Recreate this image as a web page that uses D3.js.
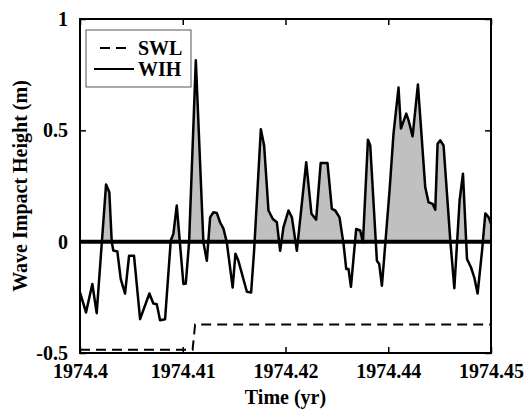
<!DOCTYPE html>
<html>
<head>
<meta charset="utf-8">
<script src="https://cdn.jsdelivr.net/npm/d3@7"></script>
<style>
  body { margin: 0; background: #fff; }
  text { font-family: "Liberation Serif", "Times New Roman", serif; font-weight: bold; }
</style>
</head>
<body>
<svg id="chart" width="531" height="412"></svg>
<script>
// time (yr) and wave impact height (m)
const wihTime = [1974.4, 1974.40073, 1974.4015, 1974.40203, 1974.40317, 1974.40357, 1974.40386, 1974.40405,
  1974.40454, 1974.40496, 1974.40548, 1974.40597, 1974.40657, 1974.40731, 1974.40844, 1974.40892,
  1974.40934, 1974.40974, 1974.41035, 1974.41104, 1974.41136, 1974.41177, 1974.41258, 1974.41287,
  1974.41327, 1974.41409, 1974.41501, 1974.41543, 1974.41583, 1974.41623, 1974.41664, 1974.41705,
  1974.41745, 1974.41786, 1974.41857, 1974.41891, 1974.41927, 1974.4203, 1974.42082, 1974.42118,
  1974.422, 1974.4224, 1974.42293, 1974.42346, 1974.42395, 1974.42435, 1974.42475, 1974.42536,
  1974.42578, 1974.42638, 1974.42752, 1974.42816, 1974.42873, 1974.42928, 1974.43011, 1974.43064,
  1974.43105, 1974.43157, 1974.43206, 1974.43239, 1974.43267, 1974.43296, 1974.4336, 1974.43409,
  1974.43442, 1974.43503, 1974.43531, 1974.43612, 1974.4364, 1974.43673, 1974.43766, 1974.43814,
  1974.43875, 1974.43904, 1974.43969, 1974.43997, 1974.44046, 1974.44111, 1974.442, 1974.4424,
  1974.44289, 1974.44322, 1974.4435, 1974.44383, 1974.44423, 1974.44505, 1974.44554, 1974.44618,
  1974.44659, 1974.44708, 1974.44757, 1974.44797, 1974.44837, 1974.44891, 1974.44931, 1974.44971, 1974.45];
const wih = [-0.228, -0.318, -0.19, -0.321, 0.257, 0.222, 0.001, -0.04,
  -0.044, -0.168, -0.233, -0.063, -0.063, -0.348, -0.233, -0.278,
  -0.281, -0.353, -0.348, 0.005, 0.035, 0.162, -0.19, -0.188,
  -0.003, 0.815, -0.003, -0.086, 0.109, 0.132, 0.129, 0.086,
  0.059, -0.003, -0.206, -0.054, -0.086, -0.225, -0.228, -0.041,
  0.505, 0.432, 0.14, 0.102, 0.087, -0.041, 0.064, 0.14,
  0.109, -0.041, 0.357, 0.125, 0.099, 0.353, 0.353, 0.147,
  0.14, 0.109, -0.01, -0.123, -0.123, -0.203, 0.057, 0.05,
  -0.003, 0.458, 0.432, -0.086, -0.1, -0.198, 0.23, 0.485,
  0.692, 0.508, 0.575, 0.545, 0.473, 0.706, 0.245, 0.177,
  0.17, 0.143, 0.44, 0.455, 0.432, 0.005, -0.209, 0.185,
  0.305, -0.078, -0.116, -0.161, -0.233, -0.041, 0.127, 0.109, 0.08];

// still water level (m)
const swlTime = [1974.4, 1974.4137, 1974.4140, 1974.45];
const swl = [-0.485, -0.485, -0.372, -0.372];

const xTicks = [1974.4, 1974.4125, 1974.425, 1974.4375, 1974.45];
const xTickLabels = ["1974.4", "1974.41", "1974.42", "1974.44", "1974.45"];
const yTicks = [-0.5, 0, 0.5, 1];
const yTickLabels = ["-0.5", "0", "0.5", "1"];

const svg = d3.select("#chart");
const margin = {top: 19, left: 80, bottom: 59, right: 40};
const width = +svg.attr("width");
const height = +svg.attr("height");

const x = d3.scaleLinear().domain([1974.4, 1974.45]).range([margin.left, width - margin.right]);
const y = d3.scaleLinear().domain([-0.5, 1]).range([height - margin.bottom, margin.top]);

const wihData = wihTime.map((t, i) => ({t: t, v: wih[i]}));
const swlData = swlTime.map((t, i) => ({t: t, v: swl[i]}));

// clip so the grey fill only shows above zero
svg.append("clipPath").attr("id", "above")
  .append("rect")
  .attr("x", x.range()[0]).attr("y", y(1))
  .attr("width", x.range()[1] - x.range()[0])
  .attr("height", y(0) - y(1));

const area = d3.area().x(d => x(d.t)).y0(y(0)).y1(d => y(d.v));
svg.append("path")
  .datum(wihData)
  .attr("clip-path", "url(#above)")
  .attr("fill", "#c0c0c0")
  .attr("d", area);

// zero line
svg.append("line")
  .attr("x1", x.range()[0]).attr("x2", x.range()[1])
  .attr("y1", y(0)).attr("y2", y(0))
  .attr("stroke", "#000").attr("stroke-width", 4);

const line = d3.line().x(d => x(d.t)).y(d => y(d.v));
svg.append("path")
  .datum(wihData)
  .attr("fill", "none").attr("stroke", "#000")
  .attr("stroke-width", 2.5).attr("stroke-linejoin", "round")
  .attr("d", line);

svg.append("path")
  .datum(swlData)
  .attr("fill", "none").attr("stroke", "#000")
  .attr("stroke-width", 2).attr("stroke-dasharray", "10,6")
  .attr("d", line);

// axes, ticks inside, mirrored on top/right
const tickLen = 6;
svg.append("g")
  .attr("transform", `translate(0,${y(-0.5)})`)
  .call(d3.axisBottom(x).tickValues(xTicks).tickSizeInner(-tickLen).tickSizeOuter(0)
    .tickPadding(11).tickFormat((d, i) => xTickLabels[i]));
svg.append("g")
  .attr("transform", `translate(0,${y(1)})`)
  .call(d3.axisTop(x).tickValues(xTicks).tickSizeInner(-tickLen).tickSizeOuter(0).tickFormat(""));
svg.append("g")
  .attr("transform", `translate(${x(1974.4)},0)`)
  .call(d3.axisLeft(y).tickValues(yTicks).tickSizeInner(-tickLen).tickSizeOuter(0)
    .tickPadding(12).tickFormat((d, i) => yTickLabels[i]));
svg.append("g")
  .attr("transform", `translate(${x(1974.45)},0)`)
  .call(d3.axisRight(y).tickValues(yTicks).tickSizeInner(-tickLen).tickSizeOuter(0).tickFormat(""));

svg.selectAll(".tick line").attr("stroke", "#000").attr("stroke-width", 1.5);
svg.selectAll(".domain").remove();
svg.selectAll(".tick text")
  .attr("font-family", "Liberation Serif, serif")
  .attr("font-weight", "bold")
  .attr("font-size", 20)
  .attr("fill", "#000");

// frame
svg.append("rect")
  .attr("x", x.range()[0]).attr("y", y(1))
  .attr("width", x.range()[1] - x.range()[0])
  .attr("height", y(-0.5) - y(1))
  .attr("fill", "none").attr("stroke", "#000").attr("stroke-width", 2);

// axis titles
svg.append("text")
  .attr("x", (x.range()[0] + x.range()[1]) / 2)
  .attr("y", 404)
  .attr("text-anchor", "middle")
  .attr("font-size", 20)
  .text("Time (yr)");

svg.append("text")
  .attr("transform", `translate(27,${(y(1) + y(-0.5)) / 2}) rotate(-90)`)
  .attr("text-anchor", "middle")
  .attr("font-size", 20)
  .text("Wave Impact Height (m)");

// legend
const legend = svg.append("g").attr("transform", "translate(86,30)");
legend.append("rect")
  .attr("width", 105).attr("height", 57)
  .attr("fill", "#fff").attr("stroke", "#555").attr("stroke-width", 1);
legend.append("line")
  .attr("x1", 14).attr("x2", 46).attr("y1", 18).attr("y2", 18)
  .attr("stroke", "#000").attr("stroke-width", 2).attr("stroke-dasharray", "10,6");
legend.append("line")
  .attr("x1", 8).attr("x2", 48).attr("y1", 39).attr("y2", 39)
  .attr("stroke", "#000").attr("stroke-width", 2);
legend.append("text").attr("x", 52).attr("y", 25).attr("font-size", 20).text("SWL");
legend.append("text").attr("x", 52).attr("y", 46).attr("font-size", 20).text("WIH");
</script>
</body>
</html>
